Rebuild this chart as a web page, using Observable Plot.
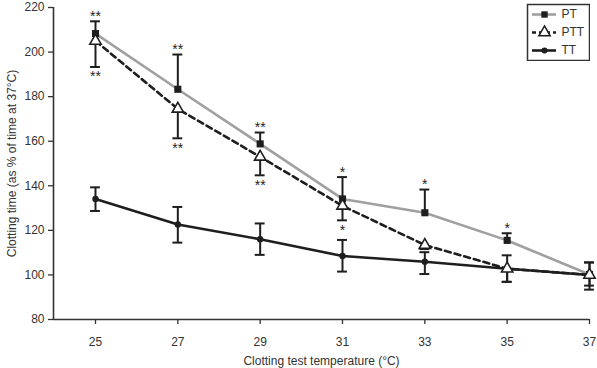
<!DOCTYPE html>
<html>
<head>
<meta charset="utf-8">
<script src="https://cdn.jsdelivr.net/npm/d3@7"></script>
<script src="https://cdn.jsdelivr.net/npm/@observablehq/plot@0.6"></script>
<style>
  html, body { margin: 0; padding: 0; background: #fff; }
  #wrap { position: relative; width: 597px; height: 368px; font-family: "Liberation Sans", Arial, sans-serif; }
  #legend { position: absolute; left: 526px; top: 3px; }
</style>
</head>
<body>
<div id="wrap"><div id="chart"></div><div id="legend"></div></div>
<script>
const temps   = [25, 27, 29, 31, 33, 35, 37];
const ptMean  = [208.3, 183.3, 158.8, 134.1, 127.9, 115.5, 100.2];
const ptHigh  = [213.8, 198.9, 163.9, 143.9, 138.3, 118.7, 105.6];
const pttMean = [205.0, 174.5, 153.0, 131.0, 113.4, 102.8, 100.0];
const pttLow  = [193.3, 161.3, 144.7, 124.5, 111.6, 96.9, 93.4];
const ttMean  = [134.1, 122.6, 116.0, 108.5, 105.9, 102.8, 100.0];
const ttLow   = [128.7, 114.5, 109.0, 101.5, 100.4, 96.9, 95.2];
const ttHigh  = [139.3, 130.5, 123.1, 115.7, 110.2, 108.8, 105.6];
const ptStars  = ["**", "**", "**", "*", "*", "*", ""];
const pttStars = ["**", "**", "**", "*", "", "", ""];
const yTicks = [80, 100, 120, 140, 160, 180, 200, 220];
const xTicks = [25, 27, 29, 31, 33, 35, 37];
const seriesNames = ["PT", "PTT", "TT"];

const pt  = temps.map((t, i) => ({t, v: ptMean[i], lo: ptMean[i], hi: ptHigh[i], star: ptStars[i], starY: ptHigh[i]}));
const ptt = temps.map((t, i) => ({t, v: pttMean[i], lo: pttLow[i], hi: pttMean[i], star: pttStars[i], starY: pttLow[i]}));
const tt  = temps.map((t, i) => ({t, v: ttMean[i], lo: ttLow[i], hi: ttHigh[i]}));
const capW = 0.12;
const capRows = [
  ...pt.map(d => ({t: d.t, y: d.hi})),
  ...ptt.map(d => ({t: d.t, y: d.lo})),
  ...tt.map(d => ({t: d.t, y: d.lo})),
  ...tt.map(d => ({t: d.t, y: d.hi}))
];
const bars = [...pt, ...ptt, ...tt];
const ink = "#1e1e1e";

const chart = Plot.plot({
  width: 597,
  height: 368,
  marginLeft: 53,
  marginRight: 8,
  marginTop: 7,
  marginBottom: 49,
  style: {fontFamily: "Liberation Sans, Arial, sans-serif", fontSize: "12px", color: "#333", background: "#fff", overflow: "visible"},
  x: {domain: [23.98, 37]},
  y: {domain: [80, 220]},
  marks: [
    Plot.axisY({ticks: yTicks, tickSize: 5, tickPadding: 4, stroke: "#333", strokeWidth: 1.3, fill: "#333",
      label: "Clotting time (as % of time at 37°C)", labelAnchor: "center", labelArrow: "none", labelOffset: 46}),
    Plot.axisX({ticks: xTicks, tickSize: 5, tickPadding: 13, stroke: "#333", strokeWidth: 1.3, fill: "#333",
      label: "Clotting test temperature (°C)", labelAnchor: "center", labelArrow: "none", labelOffset: 45}),
    Plot.ruleX([23.98], {stroke: "#333", strokeWidth: 1.6}),
    Plot.ruleY([80], {stroke: "#333", strokeWidth: 1.6}),
    Plot.line(pt, {x: "t", y: "v", stroke: "#a0a0a0", strokeWidth: 2.6}),
    Plot.line(tt, {x: "t", y: "v", stroke: ink, strokeWidth: 2.6}),
    Plot.line(ptt, {x: "t", y: "v", stroke: ink, strokeWidth: 2.6, strokeDasharray: "6,4"}),
    Plot.ruleX(bars, {x: "t", y1: "lo", y2: "hi", stroke: ink, strokeWidth: 2}),
    Plot.ruleY(capRows, {y: "y", x1: d => d.t - capW, x2: d => d.t + capW, stroke: ink, strokeWidth: 2}),
    Plot.dot(pt, {x: "t", y: "v", symbol: "square", r: 4, fill: ink, stroke: null}),
    Plot.dot(tt, {x: "t", y: "v", symbol: "circle", r: 3.2, fill: ink, stroke: null}),
    Plot.dot(ptt, {x: "t", y: "v", symbol: "triangle", r: 4.2, fill: "#fff", stroke: ink, strokeWidth: 1.6}),
    Plot.text(pt.filter(d => d.star), {x: "t", y: "starY", text: "star", dy: -5, fill: ink, fontSize: 14}),
    Plot.text(ptt.filter(d => d.star), {x: "t", y: "starY", text: "star", dy: 10, fill: ink, fontSize: 14})
  ]
});
document.getElementById("chart").appendChild(chart);

const legendRows = [
  {name: "PT", stroke: "#a0a0a0", dash: null, symbol: "square", fill: ink, r: 3.6},
  {name: "PTT", stroke: ink, dash: "4,3", symbol: "triangle", fill: "#fff", r: 4.2},
  {name: "TT", stroke: ink, dash: null, symbol: "circle", fill: ink, r: 3}
];
const legend = Plot.plot({
  width: 64,
  height: 58,
  margin: 0,
  style: {fontFamily: "Liberation Sans, Arial, sans-serif", fontSize: "12px", background: "transparent"},
  x: {domain: [0, 64], axis: null},
  y: {domain: seriesNames, range: [10, 47], type: "point", padding: 0, axis: null},
  marks: [
    Plot.frame({stroke: "#333", strokeWidth: 1.5, inset: 1}),
    ...legendRows.map(r => Plot.ruleY([r.name], {y: d => d, x1: 6, x2: 30, stroke: r.stroke, strokeWidth: 2.6, strokeDasharray: r.dash})),
    ...legendRows.map(r => Plot.dot([r.name], {y: d => d, x: 18, symbol: r.symbol, r: r.r, fill: r.fill, stroke: r.symbol === "triangle" ? ink : null, strokeWidth: 1.5})),
    Plot.text(seriesNames, {y: d => d, x: 35, text: d => d, textAnchor: "start", fill: "#333"})
  ]
});
document.getElementById("legend").appendChild(legend);
</script>
</body>
</html>
